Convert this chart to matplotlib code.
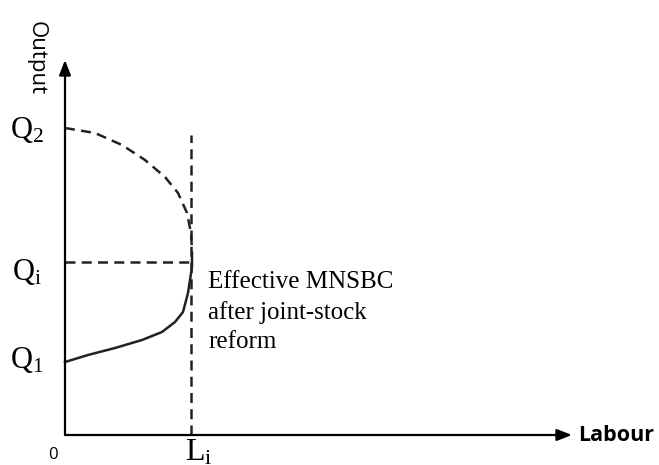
import matplotlib.pyplot as plt

plt.rcParams['mathtext.fontset'] = 'custom'
plt.rcParams['mathtext.rm'] = 'Liberation Serif'
plt.rcParams['mathtext.it'] = 'Liberation Serif:italic'

# Data (diagram units: origin at the axes corner)
L_i = 126
Q_1, Q_i, Q_2 = 73, 173, 307
x_max, y_max = 507, 375

# dashed frontier from Q2 bending down to (L_i, Q_i)
upper_x = [0, 30, 57, 80, 100, 113, 122, 126, 127, 127]
upper_y = [307, 302, 290, 275, 258, 242, 222, 202, 185, 173]

# solid effective curve from Q1 up to (L_i, Q_i)
lower_x = [0, 23, 50, 77, 97, 110, 118, 123, 125, 127, 127]
lower_y = [73, 80, 87, 95, 103, 113, 123, 142, 155, 168, 173]

serif = ['Liberation Serif', 'DejaVu Serif']

fig = plt.figure(figsize=(6.59, 4.65), dpi=100)
ax = fig.add_axes([0, 0, 1, 1])
ax.set_xlim(-65, 594)
ax.set_ylim(-30, 435)
ax.axis('off')

# axes with arrows
ax.annotate('', xy=(0, y_max), xytext=(0, 0),
            arrowprops=dict(arrowstyle='-|>,head_length=0.9,head_width=0.35', lw=1.6, color='black', shrinkA=0, shrinkB=0))
ax.annotate('', xy=(x_max, 0), xytext=(0, 0),
            arrowprops=dict(arrowstyle='-|>,head_length=0.9,head_width=0.35', lw=1.6, color='black', shrinkA=0, shrinkB=0))

ax.plot(upper_x, upper_y, color='#222222', lw=1.8, ls=(0, (4, 2.5)))
ax.plot(lower_x, lower_y, color='#222222', lw=1.8)
ax.plot([L_i, L_i], [0, 300], color='#222222', lw=1.8, ls=(0, (4, 2.5)))
ax.plot([0, L_i + 1], [Q_i, Q_i], color='#222222', lw=1.8, ls=(0, (4, 2.5)))

# labels
ax.text(-38, Q_2 - 2, r'Q$_\mathrm{2}$', fontsize=22, family=serif, ha='center', va='center')
ax.text(-38, Q_i - 10, r'Q$_\mathrm{i}$', fontsize=22, family=serif, ha='center', va='center')
ax.text(-38, Q_1 + 2, r'Q$_\mathrm{1}$', fontsize=22, family=serif, ha='center', va='center')
ax.text(-12, -20, '0', fontsize=12, family='Open Sans', ha='center', va='center')
ax.text(L_i + 8, -3, r'L$_\mathrm{i}$', fontsize=23, family=serif, ha='center', va='top')
ax.text(-29, 377, 'Output', fontsize=16, family='Open Sans', rotation=-90, ha='center', va='center')
ax.text(x_max + 6, 0, 'Labour', fontsize=15.5, family='Open Sans', weight='bold', ha='left', va='center')
ax.text(L_i + 17, 164, 'Effective MNSBC\nafter joint-stock\nreform', fontsize=18, family=serif,
        ha='left', va='top', linespacing=1.42)

fig.savefig('out.png', dpi=100)
